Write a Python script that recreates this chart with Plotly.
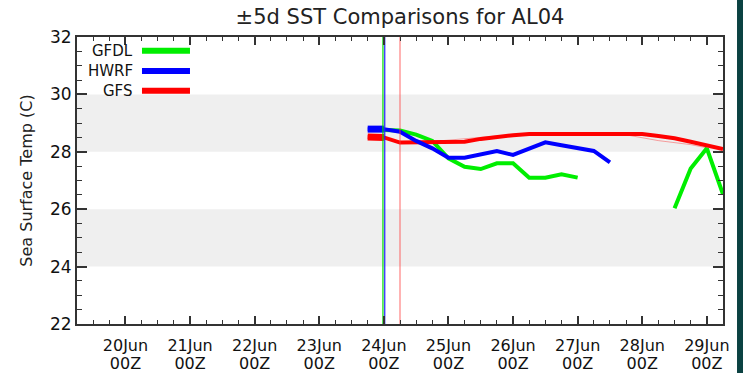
import plotly.graph_objects as go

# ---------------- data ----------------
hwrf_times = ["2023-06-23 18:00", "2023-06-24 00:00", "2023-06-24 06:00", "2023-06-24 12:00",
              "2023-06-24 18:00", "2023-06-25 00:00", "2023-06-25 06:00", "2023-06-25 12:00",
              "2023-06-25 18:00", "2023-06-26 00:00", "2023-06-26 06:00", "2023-06-26 12:00",
              "2023-06-26 18:00", "2023-06-27 00:00", "2023-06-27 06:00", "2023-06-27 12:00"]
hwrf_sst = [28.79, 28.79, 28.70, 28.38, 28.12, 27.79, 27.79, 27.91,
            28.03, 27.89, 28.11, 28.33, 28.23, 28.12, 28.03, 27.63]

gfdl_times = ["2023-06-24 00:00", "2023-06-24 06:00", "2023-06-24 12:00", "2023-06-24 18:00",
              "2023-06-25 00:00", "2023-06-25 06:00", "2023-06-25 12:00", "2023-06-25 18:00",
              "2023-06-26 00:00", "2023-06-26 06:00", "2023-06-26 12:00", "2023-06-26 18:00",
              "2023-06-27 00:00", "2023-06-27 06:00",
              "2023-06-28 12:00", "2023-06-28 18:00", "2023-06-29 00:00", "2023-06-29 06:00"]
gfdl_sst = [28.76, 28.74, 28.60, 28.38, 27.77, 27.48, 27.40, 27.60,
            27.60, 27.10, 27.10, 27.22, 27.10, None,
            26.03, 27.42, 28.12, 26.52]

gfs_times = ["2023-06-23 18:00", "2023-06-24 00:00", "2023-06-24 06:00", "2023-06-24 12:00",
             "2023-06-24 18:00", "2023-06-25 00:00", "2023-06-25 06:00", "2023-06-25 12:00",
             "2023-06-25 18:00", "2023-06-26 00:00", "2023-06-26 06:00", "2023-06-26 12:00",
             "2023-06-26 18:00", "2023-06-27 00:00", "2023-06-27 06:00", "2023-06-27 12:00",
             "2023-06-27 18:00", "2023-06-28 00:00", "2023-06-28 06:00", "2023-06-28 12:00",
             "2023-06-28 18:00", "2023-06-29 00:00", "2023-06-29 06:00"]
gfs_sst = [28.52, 28.50, 28.32, 28.32, 28.32, 28.33, 28.35, 28.45,
           28.53, 28.58, 28.62, 28.62, 28.62, 28.62, 28.62, 28.62,
           28.62, 28.62, 28.55, 28.47, 28.35, 28.22, 28.10]

thin_times = ["2023-06-24 18:00", "2023-06-25 06:00", "2023-06-25 18:00", "2023-06-26 06:00",
              "2023-06-27 12:00", "2023-06-27 18:00", "2023-06-28 06:00", "2023-06-28 18:00",
              "2023-06-29 00:00"]
thin_sst = [28.36, 28.45, 28.55, 28.60, 28.60, 28.59, 28.39, 28.25, 28.14]

marker_times = {"green": "2023-06-23 23:40", "blue": "2023-06-24 00:20", "red": "2023-06-24 06:00"}

band_ranges = [(24, 26), (28, 30)]

tick_days = ["2023-06-%02d 00:00" % d for d in range(20, 30)]
tick_top = ["%02dJun" % d for d in range(20, 30)]
tick_bottom = ["00Z"] * len(tick_days)

x_range = ["2023-06-19 06:00", "2023-06-29 06:00"]
y_range = [22, 32]

GREEN = "#00ee00"
BLUE = "#0000ff"
RED = "#ff0000"

fig = go.Figure()

# thin faint line
fig.add_trace(go.Scatter(x=thin_times, y=thin_sst, mode="lines",
                         line=dict(color="rgba(255,0,0,0.35)", width=1), hoverinfo="skip"))

# vertical markers
vcolors = {"green": "#00dd00", "blue": "#2020ff", "red": "rgba(255,60,60,0.65)"}
for k, t in marker_times.items():
    fig.add_trace(go.Scatter(x=[t, t], y=y_range, mode="lines", xaxis="x2",
                             line=dict(color=vcolors[k], width=1.2), hoverinfo="skip"))

fig.add_trace(go.Scatter(x=gfdl_times, y=gfdl_sst, mode="lines", connectgaps=False,
                         line=dict(color=GREEN, width=4), name="GFDL"))
fig.add_trace(go.Scatter(x=gfs_times, y=gfs_sst, mode="lines",
                         line=dict(color=RED, width=4), name="GFS"))
fig.add_trace(go.Scatter(x=hwrf_times, y=hwrf_sst, mode="lines",
                         line=dict(color=BLUE, width=4), name="HWRF"))
# thick analysis segments
fig.add_trace(go.Scatter(x=gfs_times[:2], y=gfs_sst[:2], mode="lines",
                         line=dict(color=RED, width=7), hoverinfo="skip"))
fig.add_trace(go.Scatter(x=hwrf_times[:2], y=hwrf_sst[:2], mode="lines",
                         line=dict(color=BLUE, width=7), hoverinfo="skip"))

shapes = []
for lo, hi in band_ranges:
    shapes.append(dict(type="rect", xref="paper", yref="y", x0=0, x1=1, y0=lo, y1=hi,
                       fillcolor="#efefef", line=dict(width=0), layer="below"))
# legend lines
for yy, c in [(0.952, GREEN), (0.8815, BLUE), (0.813, RED)]:
    shapes.append(dict(type="line", xref="paper", yref="paper", x0=0.1006, x1=0.1749,
                       y0=yy, y1=yy, line=dict(color=c, width=6)))
# dark frame at right edge
shapes.append(dict(type="rect", xref="paper", yref="paper", x0=1.0217, x1=1.04,
                   y0=-0.25, y1=1.2, fillcolor="#0b4242", line=dict(width=0), layer="above"))

annotations = []
for yy, name in [(0.952, "GFDL"), (0.8815, "HWRF"), (0.813, "GFS")]:
    annotations.append(dict(text=name, xref="paper", yref="paper", x=0.0898, y=yy,
                            xanchor="right", yanchor="middle", showarrow=False,
                            font=dict(family="DejaVu Sans", size=15, color="#111")))

axis_col = "#333333"
fig.update_layout(
    width=743, height=373,
    margin=dict(l=77, r=20, t=37, b=49),
    paper_bgcolor="white", plot_bgcolor="white",
    showlegend=False,
    font=dict(family="DejaVu Sans", color="#111"),
    title=dict(text="±5d SST Comparisons for AL04", x=0.5, xref="paper",
               y=1 - 17 / 373, yref="container", yanchor="middle",
               font=dict(size=21, family="DejaVu Sans", color="#222")),
    shapes=shapes, annotations=annotations,
    xaxis=dict(type="date", range=x_range, tickvals=tick_days, ticktext=tick_top,
               ticks="inside", ticklen=8, tickwidth=1.5, tickcolor=axis_col,
               showline=True, linecolor=axis_col, linewidth=2, mirror="ticks",
               showgrid=False, zeroline=False, ticklabelstandoff=6, automargin=False,
               tickfont=dict(size=16, family="DejaVu Sans", color="#111"),
               minor=dict(ticks="inside", ticklen=4, tickwidth=1.2, tickcolor=axis_col,
                          dtick=6 * 3600 * 1000, tick0="2023-06-20 00:00", showgrid=False)),
    xaxis2=dict(type="date", range=x_range, overlaying="x", anchor="y", side="bottom",
                tickvals=tick_days, ticktext=tick_bottom, ticks="", showline=False,
                showgrid=False, zeroline=False, ticklabelstandoff=28, automargin=False,
                tickfont=dict(size=16, family="DejaVu Sans", color="#111")),
    yaxis=dict(range=y_range, dtick=2, ticks="inside", ticklen=10, tickwidth=1.5,
               tickcolor=axis_col, showline=True, linecolor=axis_col, linewidth=2,
               mirror="ticks", showgrid=False, zeroline=False, automargin=False,
               tickfont=dict(size=17, family="DejaVu Sans", color="#111"),
               title=dict(text="Sea Surface Temp (C)", standoff=13,
                          font=dict(size=16, family="DejaVu Sans", color="#222")),
               minor=dict(ticks="inside", ticklen=5, tickwidth=1.2, tickcolor=axis_col,
                          dtick=0.5, showgrid=False)),
)

fig.write_html("out.html")
